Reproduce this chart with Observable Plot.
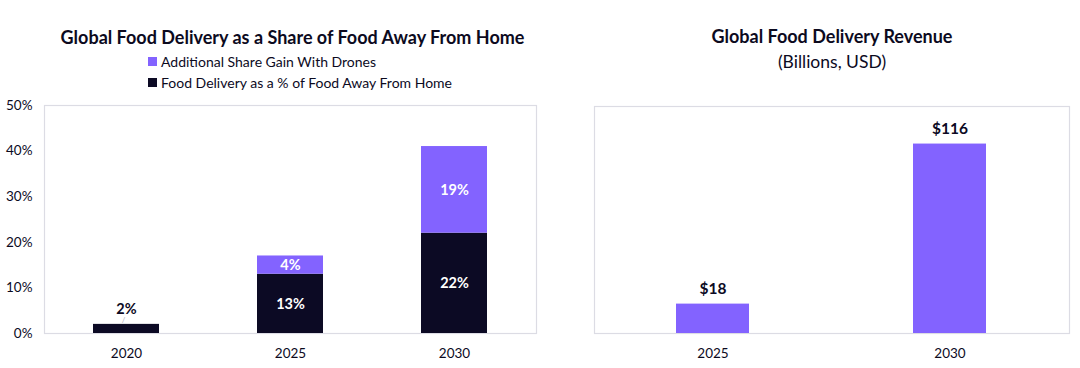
<!DOCTYPE html>
<html>
<head>
<meta charset="utf-8">
<script src="https://cdn.jsdelivr.net/npm/d3@7"></script>
<script src="https://cdn.jsdelivr.net/npm/@observablehq/plot@0.6"></script>
<style>
  html, body { margin: 0; padding: 0; background: #fff; }
  body { width: 1080px; height: 368px; position: relative; overflow: hidden; font-family: Lato, "Noto Sans", sans-serif; color: #0c0a1e; }
  .title { position: absolute; font-weight: 700; font-size: 18px; text-align: center; white-space: nowrap; }
  .sub { position: absolute; font-size: 17.5px; text-align: center; white-space: nowrap; }
  .legend { position: absolute; left: 148px; font-size: 14px; white-space: nowrap; }
  .legend div { display: flex; align-items: center; height: 21px; }
  .sw { display: inline-block; width: 9px; height: 9px; margin-right: 4px; }
  .plot { position: absolute; top: 95px; }
</style>
</head>
<body>
<div class="title" style="left:0;width:585px;top:26px;">Global Food Delivery as a Share of Food Away From Home</div>
<div class="legend" style="top:51px;">
  <div><span class="sw" style="background:#8363ff"></span>Additional Share Gain With Drones</div>
  <div><span class="sw" style="background:#0c0a24"></span>Food Delivery as a % of Food Away From Home</div>
</div>
<div class="title" style="left:580px;width:504px;top:25px;">Global Food Delivery Revenue</div>
<div class="sub" style="left:580px;width:504px;top:51px;">(Billions, USD)</div>
<div id="left" class="plot" style="left:0;"></div>
<div id="right" class="plot" style="left:560px;"></div>
<script>
const years = ["2020", "2025", "2030"];
const baseShare = [2, 13, 22];
const droneShare = [0, 4, 19];
const yTicks = [0, 10, 20, 30, 40, 50];

const revYears = ["2025", "2030"];
const revenue = [18, 116];

const DARK = "#0c0a24";
const PURPLE = "#8363ff";
const FRAME = "#dcdce4";
const FONT = "Lato, 'Noto Sans', sans-serif";

// build stacked rows from the arrays
const rows = [];
years.forEach((yr, i) => {
  rows.push({year: yr, series: "base", y1: 0, y2: baseShare[i], v: baseShare[i]});
  rows.push({year: yr, series: "drone", y1: baseShare[i], y2: baseShare[i] + droneShare[i], v: droneShare[i]});
});
const barRows = rows.filter(d => d.v > 0);
const insideLabels = barRows.filter(d => d.v >= 4);
const outsideLabels = barRows.filter(d => d.v < 4);

const left = Plot.plot({
  width: 545,
  height: 273,
  marginLeft: 44,
  marginRight: 9,
  marginTop: 10,
  marginBottom: 35,
  style: {fontFamily: FONT, fontSize: "13.5px", color: "#0c0a1e", background: "transparent"},
  x: {domain: years, paddingInner: 0.6, paddingOuter: 0.3, label: null, tickSize: 0, tickPadding: 15},
  y: {domain: [0, 50], ticks: yTicks, tickFormat: d => d + "%", label: null, tickSize: 0, tickPadding: 12},
  color: {domain: ["base", "drone"], range: [DARK, PURPLE]},
  marks: [
    Plot.frame({stroke: FRAME, strokeWidth: 1.2}),
    Plot.barY(barRows, {x: "year", y1: "y1", y2: "y2", fill: "series"}),
    Plot.text(insideLabels, {x: "year", y: d => (d.y1 + d.y2) / 2, text: d => d.v + "%", fill: "white", fontWeight: 700, fontSize: 14.5}),
    Plot.text(outsideLabels, {x: "year", y: "y2", text: d => d.v + "%", fill: DARK, fontWeight: 700, fontSize: 14.5, dy: -15}),
    Plot.text(outsideLabels, {x: "year", y: "y2", text: () => "/", fill: "#b0b0bc", fontSize: 8, dy: -4, dx: -3})
  ]
});
document.getElementById("left").appendChild(left);

const rev = revYears.map((yr, i) => ({year: yr, value: revenue[i]}));
const right = Plot.plot({
  width: 520,
  height: 273,
  marginLeft: 34,
  marginRight: 11,
  marginTop: 11,
  marginBottom: 35,
  style: {fontFamily: FONT, fontSize: "13.5px", color: "#0c0a1e", background: "transparent"},
  x: {domain: revYears, paddingInner: 0.69, paddingOuter: 0.345, label: null, tickSize: 0, tickPadding: 15},
  y: {domain: [0, 139], axis: null},
  marks: [
    Plot.frame({stroke: FRAME, strokeWidth: 1.2}),
    Plot.barY(rev, {x: "year", y: "value", fill: PURPLE}),
    Plot.text(rev, {x: "year", y: "value", text: d => "$" + d.value, fill: DARK, fontWeight: 700, fontSize: 15.5, dy: -15})
  ]
});
document.getElementById("right").appendChild(right);
</script>
</body>
</html>
